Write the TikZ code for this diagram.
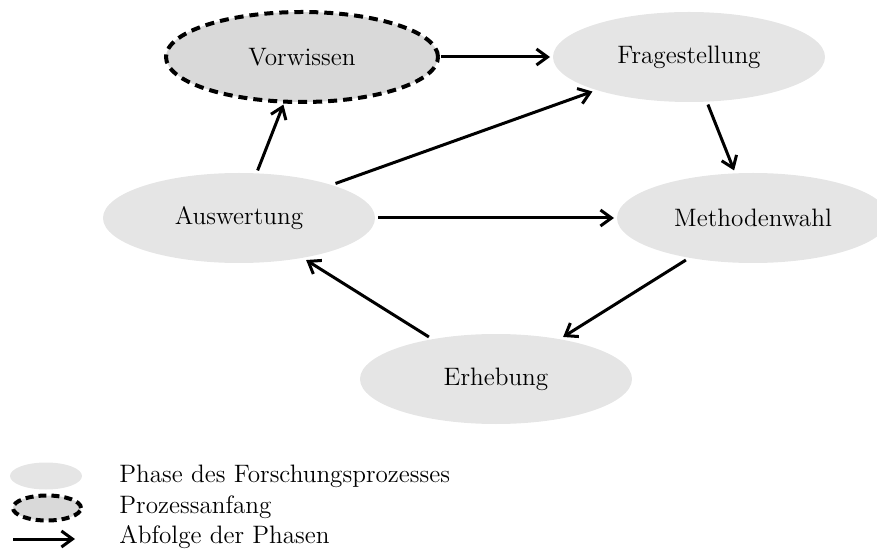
\documentclass[tikz,border=0pt]{standalone}
\usetikzlibrary{shapes.geometric,arrows.meta}
\begin{document}
\begin{tikzpicture}[x=0.5pt,y=-0.5pt,
  font=\fontsize{12.6}{15}\selectfont,
  phase/.style={ellipse,fill=black!10,inner sep=0pt,outer sep=1.5pt,
    minimum width=136pt,minimum height=45pt},
  start/.style={phase,fill=black!15,draw=black,line width=2pt,
    dash pattern=on 4.5pt off 3pt},
  flow/.style={line width=1.5pt,-{Straight Barb[length=5.5pt,width=8pt]}},
  legsym/.style={ellipse,inner sep=0pt,minimum width=36pt,minimum height=13.5pt},
  legtxt/.style={anchor=base west,inner sep=0pt}]
\useasboundingbox (0,0) rectangle (877,550);

% phases of the research process
\node[start] (vor) at (302,57) {Vorwissen};
\node[phase] (fra) at (689,57) {Fragestellung};
\node[phase] (met) at (753,218) {Methodenwahl};
\node[phase] (aus) at (239,218) {Auswertung};
\node[phase] (erh) at (496,379) {Erhebung};

% sequence of phases
\draw[flow] (vor) -- (fra);
\draw[flow] (fra) -- (met);
\draw[flow] (met) -- (erh);
\draw[flow] (erh) -- (aus);
\draw[flow] (aus) -- (vor);
\draw[flow] (aus) -- (fra);
\draw[flow] (aus) -- (met);

% legend
\node[legsym,fill=black!10] (l1) at (46,476) {};
\node[legsym,fill=black!15,draw=black,line width=2pt,dash pattern=on 4pt off 2.5pt,
  minimum width=34pt,minimum height=12.5pt] (l2) at (47,508) {};
\coordinate (a1) at (13,539);
\coordinate (a2) at (75,539);
\draw[flow] (a1) -- (a2);
\node[legtxt] (t1) at (119,482) {Phase des Forschungsprozesses};
\node[legtxt] (t2) at (119,513) {Prozessanfang};
\node[legtxt] (t3) at (119,543) {Abfolge der Phasen};
\end{tikzpicture}
\end{document}
